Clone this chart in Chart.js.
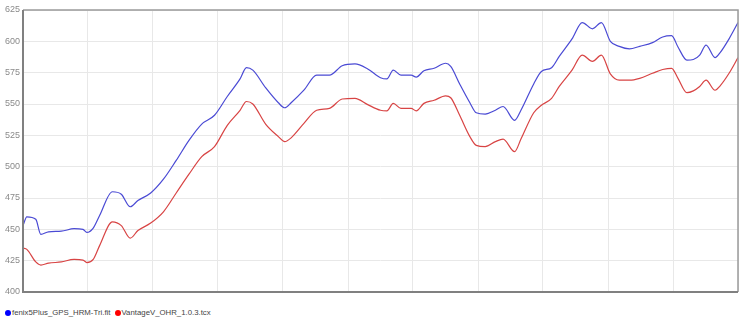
<!DOCTYPE html>
<html>
<head>
<meta charset="utf-8">
<script src="https://cdn.jsdelivr.net/npm/chart.js@4/dist/chart.umd.min.js"></script>
<style>
  body { margin: 0; background: #fff; font-family: "Liberation Sans", Arial, sans-serif; }
  #wrap { position: relative; width: 750px; height: 305px; }
  #legend { position: absolute; left: 5px; top: 308px; font-size: 7.8px; color: #444; white-space: nowrap; }
  #legend .item { display: inline-block; margin-right: 4px; }
  #legend .dot { display: inline-block; width: 6px; height: 6px; border-radius: 50%; margin-right: 1px; vertical-align: -0.5px; }
</style>
</head>
<body>
<div id="wrap"><canvas id="hrChart"></canvas></div>
<div id="legend"></div>
<script>
// elapsed time (s) shared by both recordings
const seconds = [0, 30, 100, 140, 200, 300, 400, 470, 500, 550, 600, 700, 770, 840, 900, 1000,
  1100, 1200, 1300, 1400, 1500, 1600, 1700, 1750, 1800, 1900, 2000, 2050, 2100, 2200, 2300,
  2400, 2500, 2600, 2700, 2800, 2850, 2900, 2960, 3040, 3080, 3140, 3220, 3310, 3350, 3420,
  3500, 3550, 3620, 3700, 3760, 3850, 3900, 4000, 4060, 4140, 4200, 4300, 4380, 4460, 4530,
  4600, 4670, 4750, 4830, 4930, 5010, 5080, 5130, 5200, 5250, 5300, 5350, 5420, 5460, 5530, 5600];

const fenixValues = [453, 460, 458, 446, 448, 448.5, 450.5, 450, 447.5, 451, 461, 480, 478, 468, 473, 479,
  490, 505, 521, 534, 541, 556, 570, 579, 577, 563, 551, 547, 551, 561, 573,
  573, 580.5, 582, 578, 571, 570, 577, 573, 573, 571.5, 576.5, 578.5, 582.5, 580, 566,
  551, 543, 542, 545, 548, 537, 545, 566, 576, 579, 588, 602, 615, 610, 615,
  600, 596, 594, 596, 599, 603.5, 604.5, 595.5, 585, 585.5, 589, 597, 587, 591, 602, 615];

const vantageValues = [435, 434, 424, 421.5, 423, 424, 426, 425.5, 423.5, 426, 437, 456, 453, 443, 449, 455,
  464, 479, 494, 508, 516, 533, 545, 552, 550, 534, 524, 520, 523, 534.5, 545,
  546.5, 554, 554.5, 549.5, 545, 544.5, 550.5, 546.5, 546.5, 544.5, 550.5, 553, 556.5, 555, 541,
  524, 517, 516, 520, 522, 512, 522, 543, 549, 554.5, 564, 577, 589, 584, 589,
  574, 569, 569, 570.5, 574.5, 577.5, 578.5, 570.5, 559, 560.5, 564, 569, 561, 564.5, 574.5, 587];

const seriesNames = ['fenix5Plus_GPS_HRM-Tri.fit', 'VantageV_OHR_1.0.3.tcx'];
const lineColors = ['#4a4ad4', '#d84444'];
const dotColors = ['#0000ff', '#ff0000'];

function toPoints(values) {
  return seconds.map((s, i) => ({ x: s, y: values[i] }));
}

// frame around the plot area: heavier left/bottom axis lines
const frame = {
  id: 'frame',
  afterDraw(chart) {
    const a = chart.chartArea;
    const ctx = chart.ctx;
    ctx.save();
    ctx.strokeStyle = '#9a9a9a';
    ctx.lineWidth = 1.5;
    ctx.beginPath();
    ctx.moveTo(a.left, a.top);
    ctx.lineTo(a.right, a.top);
    ctx.lineTo(a.right, a.bottom);
    ctx.stroke();
    ctx.strokeStyle = '#808080';
    ctx.lineWidth = 2;
    ctx.beginPath();
    ctx.moveTo(a.left, a.top);
    ctx.lineTo(a.left, a.bottom);
    ctx.lineTo(a.right, a.bottom);
    ctx.stroke();
    ctx.restore();
  }
};

const ctx = document.getElementById('hrChart').getContext('2d');
new Chart(ctx, {
  type: 'line',
  data: {
    datasets: [
      { label: seriesNames[0], data: toPoints(fenixValues), borderColor: lineColors[0] },
      { label: seriesNames[1], data: toPoints(vantageValues), borderColor: lineColors[1] }
    ]
  },
  options: {
    responsive: true,
    maintainAspectRatio: false,
    animation: false,
    layout: { padding: { top: 10, right: 12, left: 0, bottom: 0 } },
    elements: {
      point: { radius: 0 },
      line: { borderWidth: 1.2, cubicInterpolationMode: 'monotone' }
    },
    plugins: {
      legend: { display: false },
      tooltip: { enabled: false }
    },
    scales: {
      x: {
        type: 'linear',
        min: 0,
        max: 5600,
        afterFit: (scale) => { scale.height = 13; },
        border: { display: false },
        grid: { color: '#e8e8e8', drawTicks: false },
        ticks: {
          stepSize: 500,
          padding: 3,
          color: '#8a8a8a',
          font: { size: 9, family: 'Liberation Sans, Arial, sans-serif' },
          maxRotation: 0,
          callback: (v) => (v > 0 && v % 500 === 0 ? v : '')
        }
      },
      y: {
        min: 400,
        max: 625,
        afterFit: (scale) => { scale.width = 23; },
        border: { display: false },
        grid: { color: '#e8e8e8', drawTicks: false },
        ticks: {
          stepSize: 25,
          padding: 3,
          color: '#8a8a8a',
          font: { size: 9, family: 'Liberation Sans, Arial, sans-serif' }
        }
      }
    }
  },
  plugins: [frame]
});

document.getElementById('legend').innerHTML = seriesNames.map((name, i) =>
  `<span class="item"><span class="dot" style="background:${dotColors[i]}"></span>${name}</span>`
).join('');
</script>
</body>
</html>
